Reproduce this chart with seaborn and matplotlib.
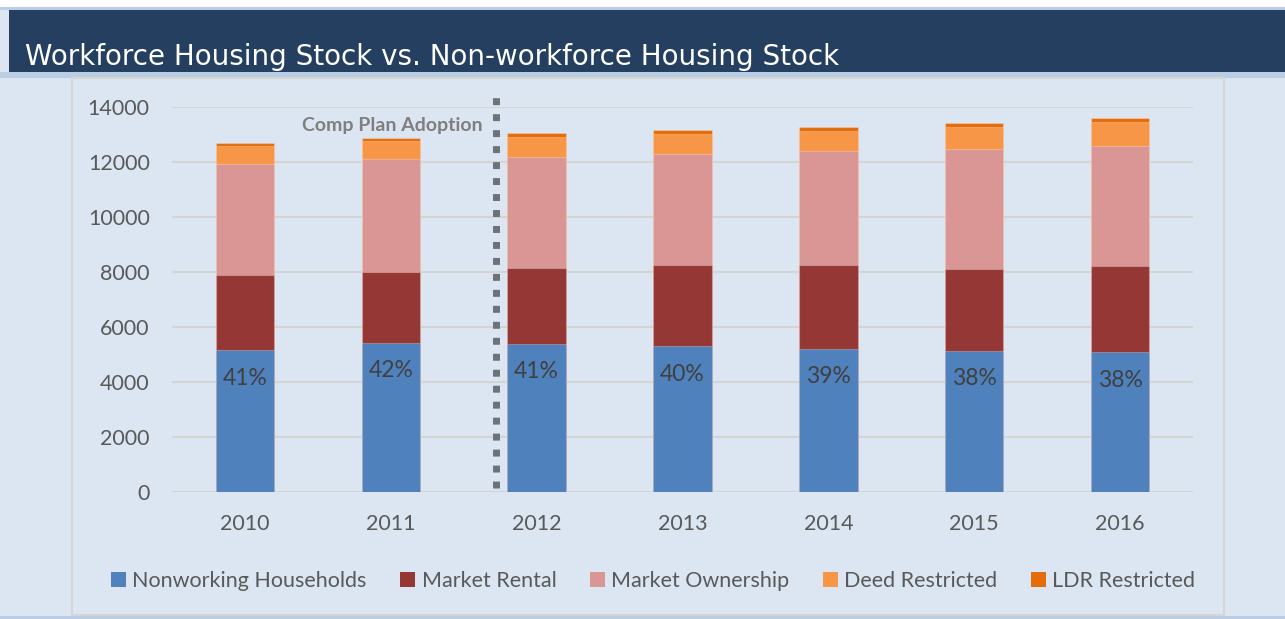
#!/usr/bin/env python3
"""
Stacked bar chart: workforce vs non-workforce housing stock, 2010-2016.
"""
import numpy as np
import pandas as pd
import matplotlib
matplotlib.use("Agg")
import matplotlib.pyplot as plt
from matplotlib.patches import Rectangle, Patch
import seaborn as sns

# data
years = ["2010", "2011", "2012", "2013", "2014", "2015", "2016"]
nonworking = [5140, 5400, 5370, 5290, 5190, 5130, 5070]
market_rental = [2730, 2580, 2765, 2965, 3055, 2980, 3150]
market_ownership = [4046, 4107, 4047, 4014, 4133, 4341, 4362]
deed_restricted = [655, 666, 716, 738, 727, 811, 862]
ldr_restricted = [109, 109, 135, 135, 145, 145, 156]
pct_labels = ["41%", "42%", "41%", "40%", "39%", "38%", "38%"]

series_names = ["Nonworking Households", "Market Rental", "Market Ownership",
                "Deed Restricted", "LDR Restricted"]
series_colors = ["#4f81bd", "#953735", "#d99694", "#f79646", "#e46c0a"]
y_ticks = [0, 2000, 4000, 6000, 8000, 10000, 12000, 14000]

title = "Workforce Housing Stock vs. Non-workforce Housing Stock"
marker_text = "Comp Plan Adoption"

W, H = 1285, 619
BG = "#dce6f2"
TXT = "#595959"


def px_rect(fig, x0, y0, x1, y1, **kw):
    """Rectangle given in pixel coords (origin top-left)."""
    r = Rectangle((x0 / W, 1 - y1 / H), (x1 - x0) / W, (y1 - y0) / H,
                  transform=fig.transFigure, **kw)
    fig.patches.append(r)


def main():
    sns.set_style("white")
    plt.rcParams["font.family"] = ["Lato", "DejaVu Sans"]

    fig = plt.figure(figsize=(W / 100, H / 100), dpi=100, facecolor=BG)

    # frame decoration
    px_rect(fig, 0, 0, W, 7, facecolor="white", edgecolor="none", zorder=-5)
    px_rect(fig, 0, 7, W, 10, facecolor="#b9cde5", edgecolor="none", zorder=-5)
    px_rect(fig, 9, 10, W, 72, facecolor="#243f60", edgecolor="none", zorder=-5)
    px_rect(fig, 0, 72, W, 78, facecolor="#b9cde5", edgecolor="none", zorder=-5)
    px_rect(fig, 0, 616, W, H, facecolor="#b9cde5", edgecolor="none", zorder=-5)
    px_rect(fig, 72, 78, 1224, 615, facecolor="none", edgecolor="#d5d5d5",
            linewidth=1.5, zorder=-4)

    fig.text(25 / W, 1 - 65 / H, title, color="white", fontsize=20,
             family=["DejaVu Sans"], ha="left", va="baseline")

    ax = fig.add_axes([172 / W, 1 - 491.7 / H, 1021 / W, 385 / H])
    ax.set_facecolor("none")

    df = pd.DataFrame({"year": years,
                       series_names[0]: nonworking,
                       series_names[1]: market_rental,
                       series_names[2]: market_ownership,
                       series_names[3]: deed_restricted,
                       series_names[4]: ldr_restricted})
    cum = df[series_names].cumsum(axis=1)

    # draw tallest layer first so lower layers sit on top
    for name, color in reversed(list(zip(series_names, series_colors))):
        sns.barplot(x=df["year"], y=cum[name], color=color, width=0.4,
                    edgecolor=(1, 1, 1, 0.25), linewidth=0.8,
                    saturation=1, ax=ax, zorder=3)

    for i, lab in enumerate(pct_labels):
        ax.annotate(lab, (i, nonworking[i]), xytext=(0, -20),
                    textcoords="offset points", ha="center", va="center",
                    fontsize=16.5, color="#404040", zorder=5)

    # adoption marker
    ax.plot([1.72, 1.72], [120, 14500], color="#6d7278", linewidth=5,
            linestyle=(0, (1, 1.3)), solid_capstyle="butt",
            dash_capstyle="butt", clip_on=False, zorder=4)
    ax.text(1.63, 13300, marker_text, ha="right", va="center",
            fontsize=14, fontweight="bold", color="#7f7f7f")

    ax.set_xlim(-0.5, 6.5)
    ax.set_ylim(0, 14000)
    ax.set_yticks(y_ticks)
    ax.set_yticklabels([str(t) for t in y_ticks])
    ax.grid(axis="y", color="#d4d4d4", linewidth=1.5, zorder=0)
    ax.set_axisbelow(True)
    ax.tick_params(axis="both", length=0, labelsize=15.5, labelcolor=TXT)
    ax.tick_params(axis="y", pad=16)
    ax.tick_params(axis="x", pad=16)
    ax.set_xlabel("")
    ax.set_ylabel("")
    sns.despine(ax=ax, left=True, bottom=True)

    handles = [Patch(facecolor=c, edgecolor="none") for c in series_colors]
    fig.legend(handles, series_names, loc="center",
               bbox_to_anchor=(653 / W, 1 - 581 / H), ncol=5, frameon=False,
               fontsize=15.5, labelcolor=TXT, handlelength=0.7,
               handleheight=0.7, handletextpad=0.3, columnspacing=1.55)

    fig.savefig("out.png", dpi=100, facecolor=BG)
    plt.close(fig)


if __name__ == "__main__":
    main()
